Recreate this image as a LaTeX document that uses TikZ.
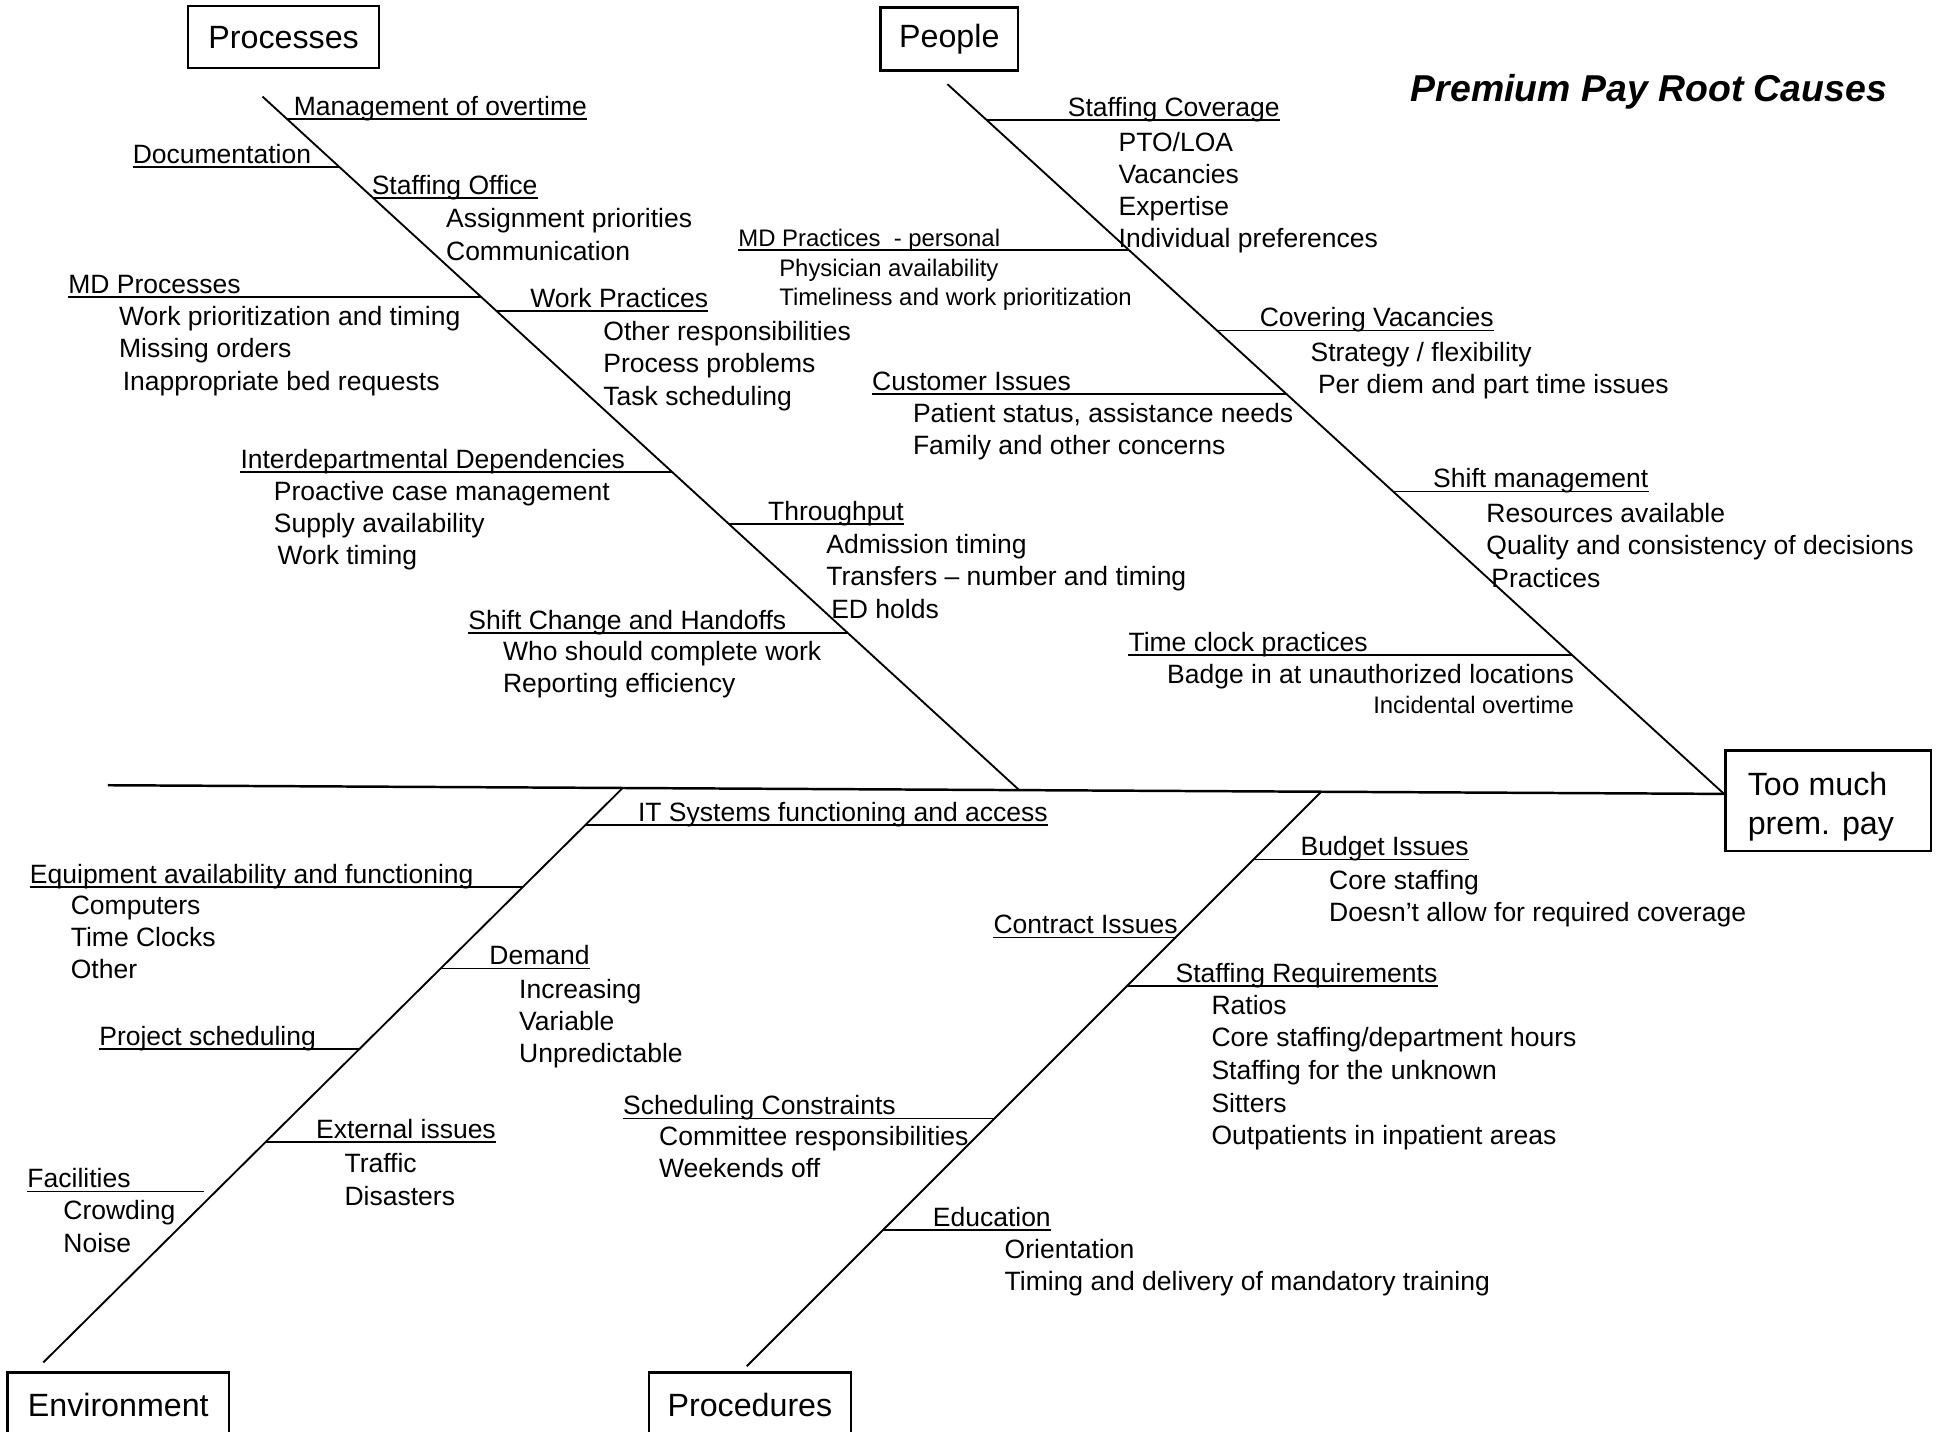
\documentclass[tikz,border=0pt]{standalone}
\usepackage{fontspec}
\setmainfont{Liberation Sans}
\newcommand\itemlist[6]{%
  \foreach \lbl [count=\i] in {#6} {\node[#5] (#1-\i) at (#2,{#3+#4*(\i-1)}) {\lbl};}}
\newcommand\bonept[4]{\coordinate (#1) at (intersection of #2--#3 and 0,#4--2000,#4);}
\begin{document}
\begin{tikzpicture}[x=1pt,y=-1pt,
  hdr/.style={inner sep=0pt, anchor=base west, font=\fontsize{21.4}{26}\selectfont},
  itm/.style={inner sep=0pt, anchor=base west, font=\fontsize{21.4}{26}\selectfont},
  sml/.style={inner sep=0pt, anchor=base west, font=\fontsize{19.3}{24}\selectfont},
  box/.style={draw, line width=2pt, inner sep=0pt, align=left, font=\fontsize{26}{32}\selectfont},
  boxtxt/.style={inner sep=0pt, anchor=base west, font=\fontsize{26}{32}\selectfont},
  bone/.style={line width=1.5pt},
  spine/.style={line width=2pt},
  branch/.style={line width=1.3pt}]
\useasboundingbox (0,0) rectangle (1568,1156);

% boxes
\node[box, minimum width=154pt, minimum height=50pt] (proc) at (229,30) {Processes};
\node[box, minimum width=111pt, minimum height=51pt] (peop) at (766.5,31.5) {People};
\node[box, minimum width=166pt, minimum height=81pt] (effect) at (1476,646.5) {};
\node[boxtxt] (eff1) at (1411,642) {Too much};
\node[boxtxt] (eff2) at (1411,674) {prem. pay};
\node[box, minimum width=179pt, minimum height=52pt] (env) at (95.5,1134) {Environment};
\node[box, minimum width=163pt, minimum height=52pt] (procd) at (605.5,1134) {Procedures};

\node[inner sep=0pt, anchor=base west, font=\fontsize{30.2}{36}\selectfont\bfseries\itshape] (title) at (1139,82) {Premium Pay Root Causes};

% spine and bones
\coordinate (s0) at (87,634);
\coordinate (s1) at ([yshift=5.5pt]effect.west);
\draw[spine] (s0) -- (s1);
\coordinate (Pa) at (212,78);  \coordinate (Pb) at (823,638);
\coordinate (Qa) at (765,68);  \coordinate (Qb) at (s1);
\coordinate (Ea) at (35,1100); \coordinate (Eb) at (503,636);
\coordinate (Ra) at (603,1103);\coordinate (Rb) at (1067,639);
\draw[bone] (Pa) -- (Pb);
\draw[bone] (Qa) -- (Qb);
\draw[bone] (Ea) -- (Eb);
\draw[bone] (Ra) -- (Rb);

% ---------- Processes ----------
\node[hdr] (h1) at (237,93) {Management of overtime};
\bonept{b1}{Pa}{Pb}{96} \draw[branch] (b1) -- (b1 -| h1.east);
\node[hdr] (h2) at (107,132) {Documentation};
\bonept{b2}{Pa}{Pb}{135} \draw[branch] (h2.west |- b2) -- (b2);
\node[hdr] (h3) at (300,157) {Staffing Office};
\bonept{b3}{Pa}{Pb}{160} \draw[branch] (b3) -- (b3 -| h3.east);
\itemlist{g3}{360}{184}{26}{itm}{Assignment priorities, Communication}
\node[hdr] (h4) at (55,237) {MD Processes};
\bonept{b4}{Pa}{Pb}{240} \draw[branch] (h4.west |- b4) -- (b4);
\itemlist{g4}{96}{263}{26}{itm}{Work prioritization and timing, Missing orders}
\node[itm] (g4-3) at (99,315) {Inappropriate bed requests};
\node[hdr] (h5) at (428,248) {Work Practices};
\bonept{b5}{Pa}{Pb}{251} \draw[branch] (b5) -- (b5 -| h5.east);
\itemlist{g5}{487}{275}{26}{itm}{Other responsibilities, Process problems, Task scheduling}
\node[hdr] (h6) at (194,378) {Interdepartmental Dependencies};
\bonept{b6}{Pa}{Pb}{381} \draw[branch] (h6.west |- b6) -- (b6);
\itemlist{g6}{221}{404}{26}{itm}{Proactive case management, Supply availability}
\node[itm] (g6-3) at (224,456) {Work timing};
\node[hdr] (h7) at (620,420) {Throughput};
\bonept{b7}{Pa}{Pb}{423} \draw[branch] (b7) -- (b7 -| h7.east);
\itemlist{g7}{667}{447}{26}{itm}{Admission timing, Transfers -- number and timing}
\node[itm] (g7-3) at (671,499) {ED holds};
\node[hdr] (h8) at (378,508) {Shift Change and Handoffs};
\bonept{b8}{Pa}{Pb}{511} \draw[branch] (h8.west |- b8) -- (b8);
\itemlist{g8}{406}{533}{26}{itm}{Who should complete work, Reporting efficiency}

% ---------- People ----------
\node[hdr] (h9) at (862,94) {Staffing Coverage};
\bonept{b9}{Qa}{Qb}{97} \draw[branch] (b9) -- (b9 -| h9.east);
\itemlist{g9}{903}{122}{26}{itm}{PTO/LOA, Vacancies, Expertise, Individual preferences}
\node[sml] (h10) at (596,199) {MD Practices~ - personal};
\bonept{b10}{Qa}{Qb}{202} \draw[branch] (h10.west |- b10) -- (b10);
\itemlist{g10}{629}{223}{24}{sml}{Physician availability, Timeliness and work prioritization}
\node[hdr] (h11) at (1017,264) {Covering Vacancies};
\bonept{b11}{Qa}{Qb}{267} \draw[branch] (b11) -- (b11 -| h11.east);
\node[itm] (g11-1) at (1058,292) {Strategy / flexibility};
\node[itm] (g11-2) at (1064,318) {Per diem and part time issues};
\node[hdr] (h12) at (704,315) {Customer Issues};
\bonept{b12}{Qa}{Qb}{318} \draw[branch] (h12.west |- b12) -- (b12);
\itemlist{g12}{737}{341}{26}{itm}{{Patient status, assistance needs}, Family and other concerns}
\node[hdr] (h13) at (1157,394) {Shift management};
\bonept{b13}{Qa}{Qb}{397} \draw[branch] (b13) -- (b13 -| h13.east);
\itemlist{g13}{1200}{422}{26}{itm}{Resources available, Quality and consistency of decisions}
\node[itm] (g13-3) at (1204,474) {Practices};
\node[hdr] (h14) at (911,526) {Time clock practices};
\bonept{b14}{Qa}{Qb}{529} \draw[branch] (h14.west |- b14) -- (b14);
\node[itm, anchor=base east] (g14-1) at (1271,552) {Badge in at unauthorized locations};
\node[sml, anchor=base east] (g14-2) at (1271,576) {Incidental overtime};

% ---------- Environment ----------
\node[hdr] (h15) at (515,663) {IT Systems functioning and access};
\bonept{b15}{Ea}{Eb}{666} \draw[branch] (b15) -- (b15 -| h15.east);
\node[hdr] (h16) at (24,713) {Equipment availability and functioning};
\bonept{b16}{Ea}{Eb}{716} \draw[branch] (h16.west |- b16) -- (b16);
\itemlist{g16}{57}{738}{26}{itm}{Computers, Time Clocks, Other}
\node[hdr] (h17) at (395,779) {Demand};
\bonept{b17}{Ea}{Eb}{782} \draw[branch] (b17) -- (b17 -| h17.east);
\itemlist{g17}{419}{806}{26}{itm}{Increasing, Variable, Unpredictable}
\node[hdr] (h18) at (80,844) {Project scheduling};
\bonept{b18}{Ea}{Eb}{847} \draw[branch] (h18.west |- b18) -- (b18);
\node[hdr] (h19) at (255,919) {External issues};
\bonept{b19}{Ea}{Eb}{922} \draw[branch] (b19) -- (b19 -| h19.east);
\itemlist{g19}{278}{947}{26}{itm}{Traffic, Disasters}
\node[hdr] (h20) at (22,959) {Facilities};
\coordinate (f20) at (165,962); \draw[branch] (h20.west |- f20) -- (f20);
\itemlist{g20}{51}{985}{26}{itm}{Crowding, Noise}

% ---------- Procedures ----------
\node[hdr] (h21) at (1050,691) {Budget Issues};
\bonept{b21}{Ra}{Rb}{694} \draw[branch] (b21) -- (b21 -| h21.east);
\itemlist{g21}{1073}{718}{26}{itm}{Core staffing, Doesn't allow for required coverage}
\node[hdr] (h22) at (802,754) {Contract Issues};
\bonept{b22}{Ra}{Rb}{757} \draw[branch] (h22.west |- b22) -- (b22);
\node[hdr] (h23) at (949,793) {Staffing Requirements};
\bonept{b23}{Ra}{Rb}{796} \draw[branch] (b23) -- (b23 -| h23.east);
\itemlist{g23}{978}{819}{26.3}{itm}{Ratios, Core staffing/department hours, Staffing for the unknown, Sitters, Outpatients in inpatient areas}
\node[hdr] (h24) at (503,900) {Scheduling Constraints};
\bonept{b24}{Ra}{Rb}{903} \draw[branch] (h24.west |- b24) -- (b24);
\itemlist{g24}{532}{925}{26}{itm}{Committee responsibilities, Weekends off}
\node[hdr] (h25) at (753,990) {Education};
\bonept{b25}{Ra}{Rb}{993} \draw[branch] (b25) -- (b25 -| h25.east);
\itemlist{g25}{811}{1016}{26}{itm}{Orientation, Timing and delivery of mandatory training}
\end{tikzpicture}
\end{document}
